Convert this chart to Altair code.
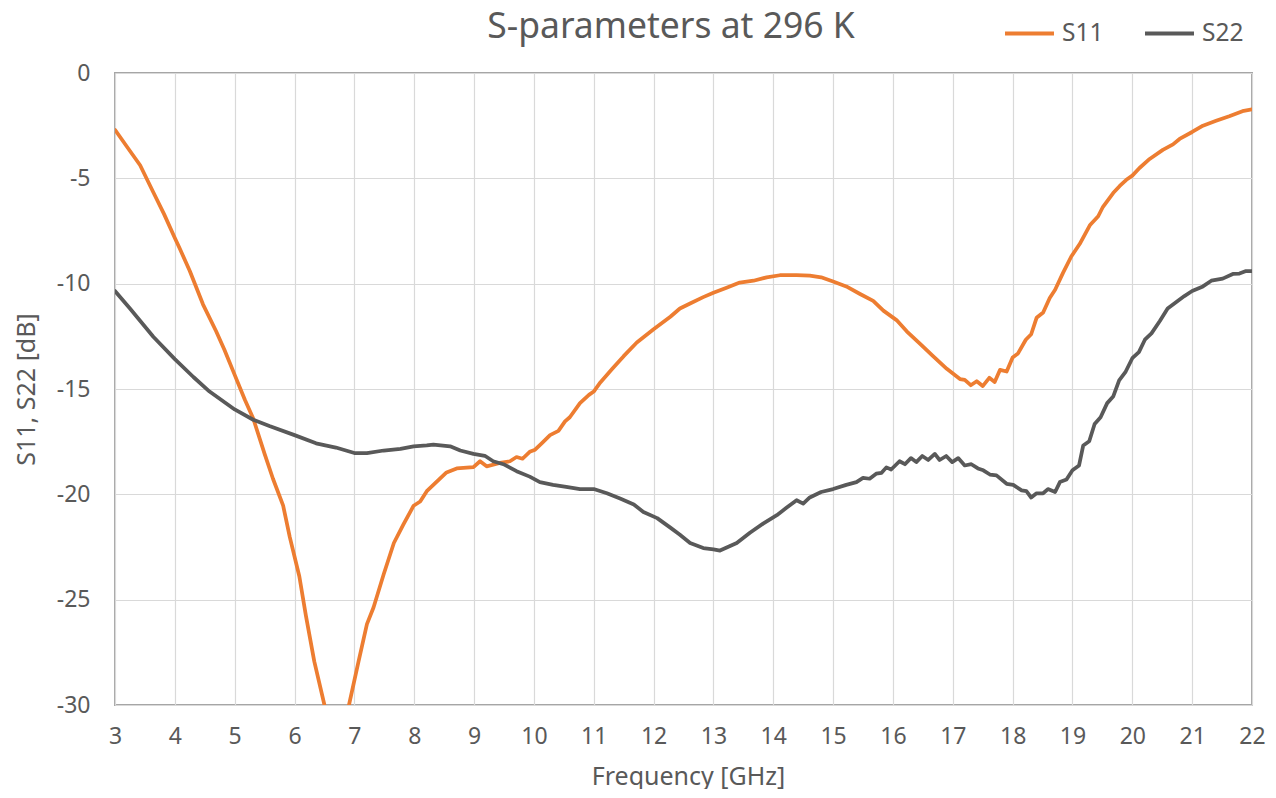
import altair as alt
import pandas as pd

# ---------------- data ----------------
s11_freq = [3.0, 3.2, 3.42, 3.64, 3.82, 4.0, 4.08, 4.25, 4.47, 4.69, 4.83, 5.0, 5.17, 5.31,
            5.5, 5.64, 5.81, 5.92, 6.08, 6.19, 6.33, 6.5, 6.6, 6.7, 6.8, 6.91, 7.07, 7.21,
            7.32, 7.49, 7.66, 7.82, 7.99, 8.1, 8.21, 8.32, 8.54, 8.71, 8.99, 9.1, 9.21, 9.43,
            9.6, 9.71, 9.81, 9.93, 10.02, 10.13, 10.27, 10.41, 10.52, 10.6, 10.77, 10.92, 11.0,
            11.11, 11.31, 11.5, 11.72, 12.0, 12.28, 12.44, 12.61, 12.83, 13.0, 13.22, 13.44,
            13.67, 13.89, 14.11, 14.39, 14.61, 14.8, 15.0, 15.22, 15.45, 15.67, 15.84, 16.06,
            16.23, 16.45, 16.67, 16.9, 17.12, 17.2, 17.3, 17.4, 17.5, 17.61, 17.7, 17.79, 17.9,
            18.0, 18.09, 18.22, 18.31, 18.4, 18.51, 18.62, 18.71, 18.84, 18.98, 19.12, 19.29,
            19.43, 19.51, 19.68, 19.79, 19.9, 20.0, 20.12, 20.29, 20.51, 20.68, 20.79, 21.0,
            21.18, 21.4, 21.62, 21.84, 22.0]
s11_db = [-2.70, -3.50, -4.38, -5.66, -6.70, -7.83, -8.32, -9.40, -10.98, -12.26, -13.15, -14.33,
          -15.51, -16.40, -18.08, -19.26, -20.54, -22.02, -23.89, -25.76, -27.93, -30.0, -31.4,
          -32.8, -32.3, -30.0, -27.93, -26.16, -25.37, -23.79, -22.31, -21.43, -20.54, -20.34,
          -19.85, -19.55, -18.96, -18.77, -18.71, -18.43, -18.67, -18.51, -18.43, -18.23, -18.31,
          -17.98, -17.88, -17.58, -17.19, -16.99, -16.54, -16.34, -15.67, -15.28, -15.12, -14.69,
          -14.04, -13.44, -12.79, -12.16, -11.57, -11.18, -10.94, -10.64, -10.43, -10.19, -9.95,
          -9.86, -9.70, -9.60, -9.60, -9.62, -9.70, -9.90, -10.13, -10.49, -10.82, -11.28, -11.73,
          -12.26, -12.85, -13.44, -14.04, -14.53, -14.57, -14.82, -14.63, -14.86, -14.47, -14.67,
          -14.09, -14.17, -13.50, -13.31, -12.66, -12.40, -11.62, -11.37, -10.68, -10.29, -9.50,
          -8.71, -8.12, -7.23, -6.80, -6.35, -5.70, -5.36, -5.07, -4.87, -4.51, -4.08, -3.65,
          -3.39, -3.13, -2.80, -2.50, -2.27, -2.05, -1.81, -1.73]

s22_freq = [3.0, 3.25, 3.64, 4.0, 4.31, 4.58, 5.0, 5.31, 5.58, 6.0, 6.36, 6.69, 7.0, 7.21, 7.49,
            7.77, 7.99, 8.21, 8.32, 8.6, 8.77, 8.99, 9.18, 9.32, 9.49, 9.71, 9.93, 10.1, 10.32,
            10.54, 10.77, 11.0, 11.22, 11.44, 11.67, 11.83, 12.06, 12.28, 12.44, 12.61, 12.83,
            13.0, 13.11, 13.39, 13.61, 13.83, 14.06, 14.22, 14.39, 14.5, 14.61, 14.8, 15.0, 15.22,
            15.39, 15.5, 15.61, 15.72, 15.81, 15.89, 15.97, 16.11, 16.2, 16.3, 16.39, 16.49, 16.59,
            16.7, 16.78, 16.89, 16.99, 17.09, 17.2, 17.31, 17.42, 17.51, 17.62, 17.73, 17.9, 18.01,
            18.15, 18.23, 18.31, 18.4, 18.51, 18.59, 18.71, 18.79, 18.9, 19.0, 19.11, 19.18, 19.28,
            19.37, 19.47, 19.58, 19.68, 19.78, 19.89, 20.0, 20.11, 20.21, 20.32, 20.46, 20.59,
            20.73, 20.87, 21.0, 21.18, 21.32, 21.51, 21.68, 21.79, 21.9, 22.0]
s22_db = [-10.35, -11.18, -12.52, -13.58, -14.43, -15.12, -15.97, -16.46, -16.76, -17.19, -17.58,
          -17.78, -18.04, -18.04, -17.92, -17.84, -17.72, -17.68, -17.64, -17.72, -17.92, -18.08,
          -18.17, -18.43, -18.57, -18.90, -19.16, -19.42, -19.55, -19.65, -19.75, -19.75, -19.95,
          -20.20, -20.48, -20.84, -21.13, -21.58, -21.92, -22.31, -22.55, -22.61, -22.67, -22.31,
          -21.82, -21.39, -20.99, -20.64, -20.28, -20.44, -20.15, -19.89, -19.75, -19.55, -19.42,
          -19.22, -19.26, -19.02, -18.98, -18.72, -18.82, -18.43, -18.57, -18.28, -18.47, -18.18,
          -18.37, -18.08, -18.37, -18.18, -18.47, -18.28, -18.63, -18.57, -18.77, -18.86, -19.06,
          -19.10, -19.50, -19.55, -19.81, -19.85, -20.15, -19.95, -19.95, -19.75, -19.89, -19.42,
          -19.30, -18.86, -18.63, -17.68, -17.48, -16.66, -16.34, -15.67, -15.36, -14.59, -14.17,
          -13.54, -13.25, -12.66, -12.36, -11.77, -11.18, -10.88, -10.59, -10.35, -10.13, -9.86,
          -9.76, -9.54, -9.52, -9.40, -9.40]

series_names = ["S11", "S22"]
series_colors = ["#ED7D31", "#595959"]
x_ticks = list(range(3, 23))
y_ticks = [-30, -25, -20, -15, -10, -5, 0]
chart_title = "S-parameters at 296 K"

df = pd.concat([
    pd.DataFrame({"freq": s11_freq, "db": s11_db, "series": "S11"}),
    pd.DataFrame({"freq": s22_freq, "db": s22_db, "series": "S22"}),
], ignore_index=True)

FONT = "Noto Sans"
TXT = "#595959"

lines = alt.Chart(df).mark_line(
    clip=True, strokeWidth=3.75, strokeCap="round", strokeJoin="round"
).encode(
    x=alt.X("freq:Q",
            scale=alt.Scale(domain=[3, 22], nice=False, zero=False),
            axis=alt.Axis(values=x_ticks, title="Frequency [GHz]", labelPadding=20,
                          labelFlush=False, labelOverlap=False,
                          titleX=573, titleY=71, titleBaseline="middle", titleAlign="center")),
    y=alt.Y("db:Q",
            scale=alt.Scale(domain=[-30, 0], nice=False),
            axis=alt.Axis(values=y_ticks, title="S11, S22 [dB]", labelPadding=25,
                          labelFlush=False, labelOverlap=False,
                          labelExpr="datum.value + ''",
                          titleX=-89, titleY=316, titleBaseline="middle", titleAngle=270,
                          titleAlign="center")),
    color=alt.Color("series:N",
                    scale=alt.Scale(domain=series_names, range=series_colors),
                    legend=alt.Legend(title=None, orient="none", legendX=888, legendY=-66,
                                      direction="horizontal", symbolType="stroke",
                                      symbolSize=2400, symbolStrokeWidth=4,
                                      labelFontSize=24.5, labelColor=TXT, labelFont=FONT,
                                      columnPadding=33, labelOffset=6, padding=0)),
)

title_mark = alt.Chart(pd.DataFrame({"t": [chart_title]})).mark_text(
    fontSize=35.5, font=FONT, color=TXT, align="center", baseline="alphabetic"
).encode(
    text="t:N", x=alt.value(556), y=alt.value(-35)
)

chart = alt.layer(lines, title_mark).properties(
    width=1137, height=632,
    autosize=alt.AutoSizeParams(type="none"),
    padding={"left": 107, "top": 65, "right": 14, "bottom": 84},
).configure_axis(
    grid=True, gridColor="#D9D9D9", gridWidth=1.2, domain=False, ticks=False, tickSize=0,
    labelFontSize=23, labelColor=TXT, labelFont=FONT,
    titleFontSize=25, titleFontWeight="normal", titleColor=TXT, titleFont=FONT,
).configure_view(
    stroke="#A6A6A6", strokeWidth=2
)

chart.save("out.html", embed_options={"renderer": "svg", "actions": False})
